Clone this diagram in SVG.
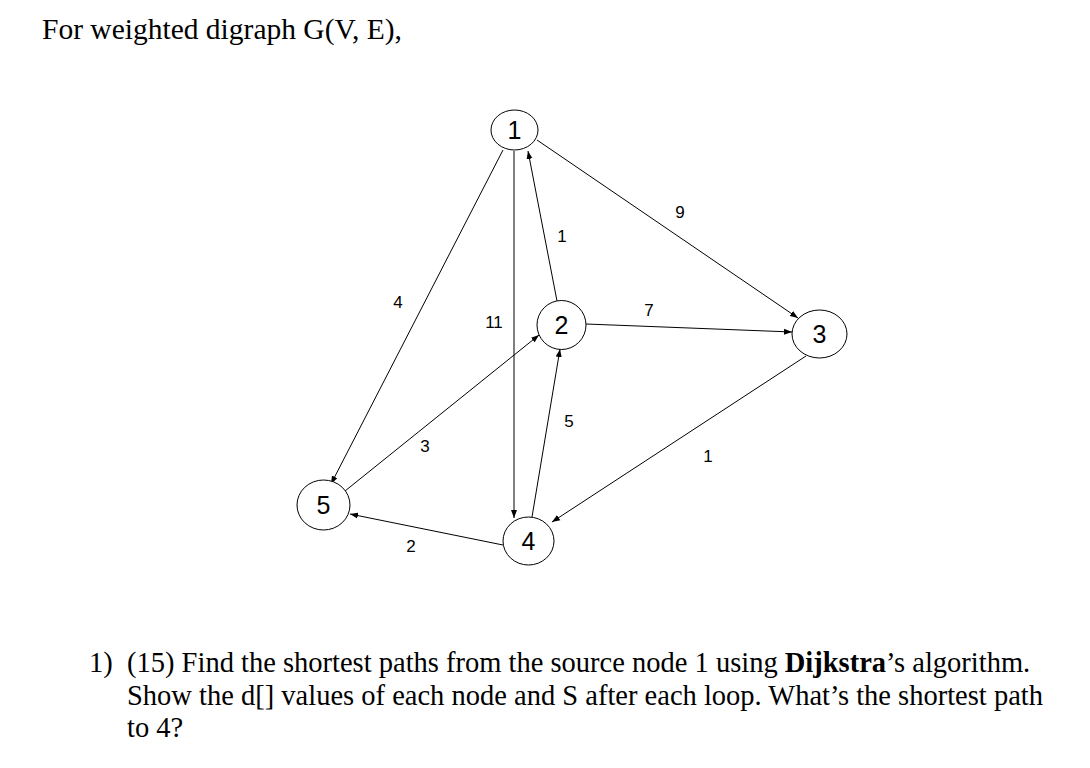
<svg xmlns="http://www.w3.org/2000/svg" width="1090" height="768" viewBox="0 0 1090 768">
<style>
.node ellipse{fill:#fff;stroke:#000;stroke-width:1}
.node text{font-family:"Liberation Sans",Arial,sans-serif;font-size:25px;text-anchor:middle;dominant-baseline:central;fill:#000}
.edge line{stroke:#000;stroke-width:1;marker-end:url(#arr)}
.lbl{font-family:"Liberation Sans",Arial,sans-serif;font-size:17px;text-anchor:middle;dominant-baseline:central;fill:#000}
.prose{font-family:"Liberation Serif","Times New Roman",serif;font-size:28.5px;fill:#000}
</style>
<defs>
<marker id="arr" markerUnits="userSpaceOnUse" markerWidth="9" markerHeight="7" refX="8" refY="3.5" orient="auto">
<path d="M0,0.5 L8,3.5 L0,6.5 Z" fill="#000"/>
</marker>
</defs>
<rect width="1090" height="768" fill="#fff"/>
<text class="prose" x="42" y="39" style="font-size:29.5px">For weighted digraph G(V, E),</text>
<g id="connectors" class="edge">
<line x1="503" y1="150" x2="331" y2="484"/>
<line x1="514" y1="151" x2="514" y2="518"/>
<line x1="557" y1="301" x2="528" y2="151"/>
<line x1="586" y1="324" x2="792" y2="332"/>
<line x1="537" y1="140" x2="798" y2="318"/>
<line x1="806" y1="356" x2="552" y2="522"/>
<line x1="532" y1="517" x2="560" y2="349"/>
<line x1="345" y1="491" x2="539" y2="335"/>
<line x1="503" y1="545" x2="350" y2="514"/>
</g>
<g id="labels">
<text class="lbl" x="398" y="302">4</text>
<text class="lbl" x="494" y="322">11</text>
<text class="lbl" x="562" y="236">1</text>
<text class="lbl" x="680" y="212">9</text>
<text class="lbl" x="649" y="310">7</text>
<text class="lbl" x="708" y="456">1</text>
<text class="lbl" x="569" y="421">5</text>
<text class="lbl" x="425" y="446">3</text>
<text class="lbl" x="411" y="546">2</text>
</g>
<g id="n1" class="node"><ellipse cx="514.5" cy="130" rx="23.5" ry="20"/><text x="514.5" y="130">1</text></g>
<g id="n2" class="node"><ellipse cx="561.5" cy="325" rx="24.5" ry="24.5"/><text x="561.5" y="325">2</text></g>
<g id="n3" class="node"><ellipse cx="819.5" cy="334" rx="27.5" ry="24"/><text x="819.5" y="334">3</text></g>
<g id="n4" class="node"><ellipse cx="528.5" cy="541" rx="25.5" ry="24"/><text x="528.5" y="541">4</text></g>
<g id="n5" class="node"><ellipse cx="323.5" cy="505" rx="26.5" ry="25"/><text x="323.5" y="505">5</text></g>
<g id="question">
<text class="prose" x="89" y="672">1)</text>
<text class="prose" x="127" y="672">(15) Find the shortest paths from the source node 1 using <tspan font-weight="bold">Dijkstra</tspan>’s algorithm.</text>
<text class="prose" x="127" y="705">Show the d[] values of each node and S after each loop. What’s the shortest path</text>
<text class="prose" x="127" y="737">to 4?</text>
</g>
</svg>
